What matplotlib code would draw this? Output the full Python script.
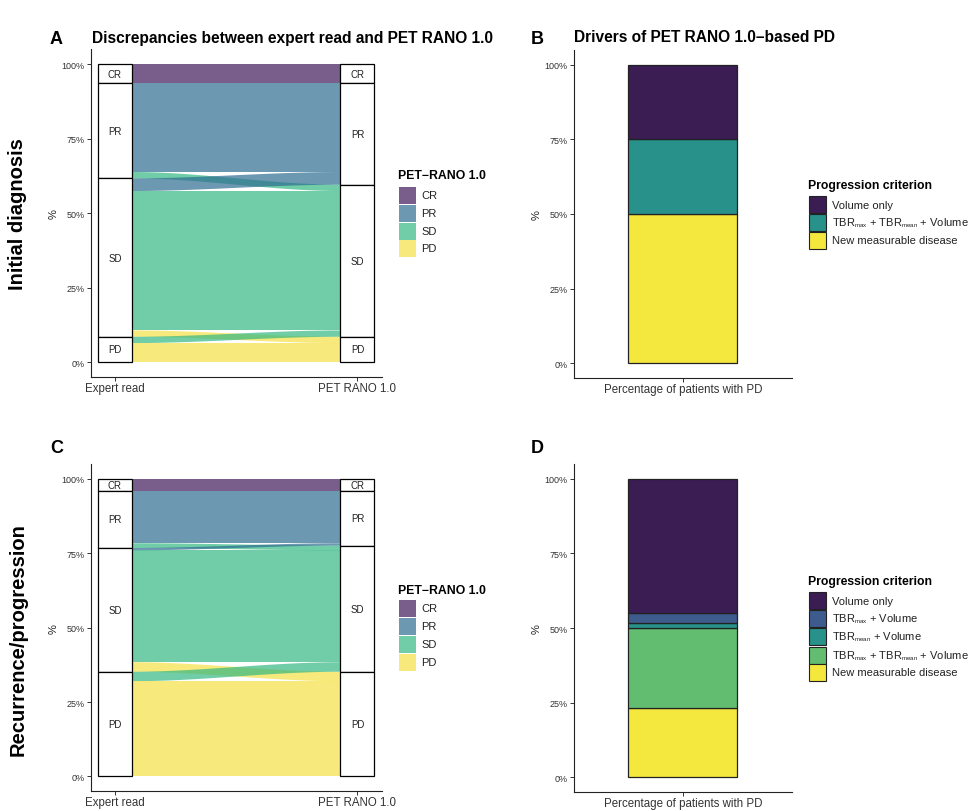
import numpy as np
import matplotlib
matplotlib.use("Agg")
import matplotlib.pyplot as plt
from matplotlib.patches import Rectangle, Polygon
import matplotlib._mathtext as _mt

_mt.SHRINK_FACTOR = 0.55

plt.rcParams['font.family'] = ['Liberation Sans', 'DejaVu Sans']
plt.rcParams['mathtext.fontset'] = 'custom'
plt.rcParams['mathtext.rm'] = 'Liberation Sans'
plt.rcParams['mathtext.it'] = 'Liberation Sans'

# ---------------- data ----------------
response_cats = ["CR", "PR", "SD", "PD"]
axis_labels = ["Expert read", "PET RANO 1.0"]
# rows: expert read category, cols: PET RANO 1.0 category (patient counts)
flows_initial = [[3, 0, 0, 0],
                 [0, 14, 1, 0],
                 [0, 2, 22, 1],
                 [0, 0, 1, 3]]
flows_recurrence = [[5, 0, 0, 0],
                    [0, 22, 2, 0],
                    [0, 1, 47, 4],
                    [0, 0, 4, 40]]
response_colors = ["#411A5B", "#2E6C91", "#33B883", "#F5E144"]

criteria_initial = ["Volume only",
                    r"TBR$_{\mathrm{max}}$ + TBR$_{\mathrm{mean}}$ + Volume",
                    "New measurable disease"]
pct_initial = [25.0, 25.0, 50.0]
colors_initial = ["#3B1D54", "#27918A", "#F4E73E"]

criteria_recurrence = ["Volume only",
                       r"TBR$_{\mathrm{max}}$ + Volume",
                       r"TBR$_{\mathrm{mean}}$ + Volume",
                       r"TBR$_{\mathrm{max}}$ + TBR$_{\mathrm{mean}}$ + Volume",
                       "New measurable disease"]
pct_recurrence = [45.0, 3.4, 1.6, 26.6, 23.4]
colors_recurrence = ["#3B1D54", "#3D5B8D", "#27918A", "#62BD71", "#F4E73E"]

bar_label = "Percentage of patients with PD"
y_ticks = [0, 0.25, 0.5, 0.75, 1.0]
y_ticklabels = ["0%", "25%", "50%", "75%", "100%"]

# ---------------- layout ----------------
W, H = 974, 812
fig = plt.figure(figsize=(W / 100, H / 100), dpi=100)


def rect(l, r, t, b):
    return [l / W, 1 - b / H, (r - l) / W, (b - t) / H]


TICK_FS = 6.5
TXT = "#333333"


def style_axes(ax):
    for s in ["top", "right"]:
        ax.spines[s].set_visible(False)
    for s in ["left", "bottom"]:
        ax.spines[s].set_linewidth(0.8)
        ax.spines[s].set_color("#222222")
    ax.set_ylim(-0.05, 1.05)
    ax.set_yticks(y_ticks)
    ax.set_yticklabels(y_ticklabels, fontsize=TICK_FS, color=TXT)
    ax.tick_params(axis="y", length=3, width=0.7, color="#333333", pad=1.5)
    ax.tick_params(axis="x", length=3, width=0.7, color="#333333", pad=0.5)
    ax.set_ylabel("%", fontsize=8, color="#222222", labelpad=2)


def smooth(t):
    return 3 * t ** 2 - 2 * t ** 3


def alluvial(ax, flows):
    flows = np.array(flows, dtype=float)
    N = flows.sum()
    w = 0.14
    xl, xr = 1 + w / 2, 2 - w / 2
    rows = flows.sum(axis=1)
    cols = flows.sum(axis=0)
    left_top = 1 - np.concatenate([[0], np.cumsum(rows)[:-1]]) / N
    right_top = 1 - np.concatenate([[0], np.cumsum(cols)[:-1]]) / N
    lpos = {}
    for i in range(4):
        y = left_top[i]
        for j in range(4):
            h = flows[i, j] / N
            if h > 0:
                lpos[(i, j)] = (y, y - h)
                y -= h
    rpos = {}
    for j in range(4):
        y = right_top[j]
        for i in range(4):
            h = flows[i, j] / N
            if h > 0:
                rpos[(i, j)] = (y, y - h)
                y -= h
    t = np.linspace(0, 1, 80)
    xs = xl + (xr - xl) * t
    for (i, j) in lpos:
        lt, lb = lpos[(i, j)]
        rt, rb = rpos[(i, j)]
        top = lt + (rt - lt) * smooth(t)
        bot = lb + (rb - lb) * smooth(t)
        pts = np.concatenate([np.column_stack([xs, top]),
                              np.column_stack([xs[::-1], bot[::-1]])])
        ax.add_patch(Polygon(pts, closed=True, facecolor=response_colors[j],
                             alpha=0.7, edgecolor="none", zorder=2))
    for x, tops, sizes in [(1, left_top, rows), (2, right_top, cols)]:
        for k in range(4):
            h = sizes[k] / N
            if h <= 0:
                continue
            ax.add_patch(Rectangle((x - w / 2, tops[k] - h), w, h, facecolor="white",
                                   edgecolor="black", linewidth=0.9, zorder=3))
            ax.text(x, tops[k] - h / 2, response_cats[k], ha="center", va="center",
                    fontsize=7, color="#222222", zorder=4)
    ax.set_xlim(0.9, 2.1)
    ax.set_xticks([1, 2])
    ax.set_xticklabels(axis_labels, fontsize=8.3, color=TXT)
    style_axes(ax)


def alluvial_legend(x, ytitle, rows_y):
    fig.text(x / W, 1 - ytitle / H, "PET\u2212RANO 1.0", fontsize=8.8, fontweight="bold",
             ha="left", va="center")
    for k, cat in enumerate(response_cats):
        y = rows_y[k]
        fig.patches.append(Rectangle(((x + 1) / W, 1 - (y + 8.5) / H), 16.5 / W, 17 / H,
                                     transform=fig.transFigure, facecolor=response_colors[k],
                                     alpha=0.7, edgecolor="none"))
        fig.text((x + 23) / W, 1 - y / H, cat, fontsize=8, ha="left", va="center",
                 color="#222222")


def stacked_bar(ax, pcts, colors):
    bottom = 0.0
    for p, c in zip(pcts[::-1], colors[::-1]):
        ax.bar(1, p / 100, bottom=bottom, width=0.6, color=c, edgecolor="#222222",
               linewidth=0.9, zorder=2)
        bottom += p / 100
    ax.set_xlim(0.4, 1.6)
    ax.set_xticks([1])
    ax.set_xticklabels([bar_label], fontsize=8.3, color=TXT)
    style_axes(ax)


def bar_legend(x, ytitle, rows_y, labels, colors):
    fig.text(x / W, 1 - ytitle / H, "Progression criterion", fontsize=8.8,
             fontweight="bold", ha="left", va="center")
    for k, lab in enumerate(labels):
        y = rows_y[k]
        fig.patches.append(Rectangle(((x + 1) / W, 1 - (y + 8.5) / H), 16.5 / W, 17 / H,
                                     transform=fig.transFigure, facecolor=colors[k],
                                     edgecolor="#222222", linewidth=0.8))
        fig.text((x + 24) / W, 1 - y / H, lab, fontsize=8, ha="left", va="center",
                 color="#222222")


# Panel A
axA = fig.add_axes(rect(90.7, 381.7, 50.4, 378))
alluvial(axA, flows_initial)
alluvial_legend(398, 176, [196, 214, 232, 249.5])

# Panel C
axC = fig.add_axes(rect(90.7, 381.7, 465.1, 792.3))
alluvial(axC, flows_recurrence)
alluvial_legend(398, 591, [609.5, 627.5, 645.5, 663])

# Panel B
axB = fig.add_axes(rect(574, 791.7, 50.7, 379.3))
stacked_bar(axB, pct_initial, colors_initial)
bar_legend(808, 186, [205.7, 223.3, 241], criteria_initial, colors_initial)

# Panel D
axD = fig.add_axes(rect(574, 791.7, 464.7, 793.4))
stacked_bar(axD, pct_recurrence, colors_recurrence)
bar_legend(808, 582, [601.7, 619.5, 637.5, 656, 673.5], criteria_recurrence,
           colors_recurrence)

# Titles and panel letters
fig.text(50 / W, 1 - 40 / H, "A", fontsize=13, fontweight="bold", ha="left", va="center")
fig.text(92 / W, 1 - 38 / H, "Discrepancies between expert read and PET RANO 1.0",
         fontsize=11.2, fontweight="bold", ha="left", va="center")
fig.text(531 / W, 1 - 40 / H, "B", fontsize=13, fontweight="bold", ha="left", va="center")
fig.text(574 / W, 1 - 38 / H, "Drivers of PET RANO 1.0\u2013based PD",
         fontsize=11.2, fontweight="bold", ha="left", va="center")
fig.text(50 / W, 1 - 449 / H, "C", fontsize=13, fontweight="bold", ha="left", va="center")
fig.text(531 / W, 1 - 449 / H, "D", fontsize=13, fontweight="bold", ha="left", va="center")

fig.text(18 / W, 1 - 214 / H, "Initial diagnosis", fontsize=14.5, fontweight="bold",
         rotation=90, ha="center", va="center")
fig.text(18 / W, 1 - 640 / H, "Recurrence/progression", fontsize=14.5, fontweight="bold",
         rotation=90, ha="center", va="center")

fig.savefig("out.png", dpi=100, facecolor="white")
